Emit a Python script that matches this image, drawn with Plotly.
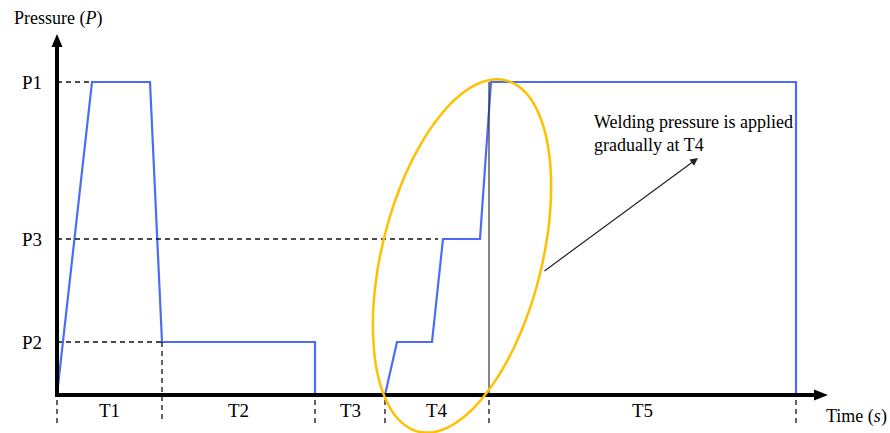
import numpy as np
import plotly.graph_objects as go

# ---- data (time units / pressure units, origin at axes crossing) ----
P1, P3, P2 = 313, 156, 53
T_bounds = [0, 105, 258, 328, 432, 739]
T_labels = ["T1", "T2", "T3", "T4", "T5"]
p_labels = ["P1", "P2", "P3"]
p_values = [P1, P2, P3]

prof_t = [0, 35, 93, 105, 258, 258, 328, 340, 375, 386, 423, 434, 739, 739]
prof_p = [0, P1, P1, P2, P2, 0, 0, P2, P2, P3, P3, P1, P1, 0]

BLUE = "#4a6cf7"
ORANGE = "#FFC000"
FONT = "Liberation Serif"

fig = go.Figure()
fig.add_trace(go.Scatter(x=prof_t, y=prof_p, mode="lines",
                         line=dict(color=BLUE, width=2.2), hoverinfo="skip",
                         showlegend=False))

shapes = []
dash = "5px,4px"
dl = dict(color="#111", width=1.3, dash=dash)
# horizontal dashed guides
shapes.append(dict(type="line", x0=0, x1=35, y0=P1, y1=P1, line=dl))
shapes.append(dict(type="line", x0=0, x1=381, y0=P3, y1=P3, line=dl))
shapes.append(dict(type="line", x0=0, x1=105, y0=P2, y1=P2, line=dl))
# vertical dashed ticks
for t in T_bounds:
    y0 = P2 if t == 105 else -5
    shapes.append(dict(type="line", x0=t, x1=t, y0=y0, y1=-28, line=dl))
# thin black vertical at end of T4
shapes.append(dict(type="line", x0=432, x1=432, y0=0, y1=P1, line=dict(color="#333", width=1.2)))
# axes
shapes.append(dict(type="line", x0=0, x1=0, y0=-2, y1=350, line=dict(color="black", width=4)))
shapes.append(dict(type="line", x0=-2, x1=760, y0=0, y1=0, line=dict(color="black", width=4)))
shapes.append(dict(type="path", path="M -5.5 348 L 5.5 348 L 0 361 Z", fillcolor="black", line=dict(width=0)))
shapes.append(dict(type="path", path="M 757 -5.5 L 757 5.5 L 771 0 Z", fillcolor="black", line=dict(width=0)))

# ellipse
cx, cy, a, b, th = 405, 139, 181, 80, np.radians(14)
ts = np.linspace(0, 2 * np.pi, 120)
ux, uy = np.sin(th), np.cos(th)
vx, vy = np.cos(th), -np.sin(th)
ex = cx + a * np.cos(ts) * ux + b * np.sin(ts) * vx
ey = cy + a * np.cos(ts) * uy + b * np.sin(ts) * vy
path = "M " + " L ".join(f"{x:.1f} {y:.1f}" for x, y in zip(ex, ey)) + " Z"
shapes.append(dict(type="path", path=path, line=dict(color=ORANGE, width=2.5)))

ann = []
ann.append(dict(x=1, y=377, text="Pressure (<i>P</i>)", showarrow=False,
                font=dict(family=FONT, size=18, color="black")))
for lab, v in zip(p_labels, p_values):
    ann.append(dict(x=-13, y=v, text=lab, showarrow=False, xanchor="right",
                    font=dict(family=FONT, size=19, color="black")))
for i, lab in enumerate(T_labels):
    ann.append(dict(x=(T_bounds[i] + T_bounds[i + 1]) / 2, y=-15, text=lab, showarrow=False,
                    font=dict(family=FONT, size=19, color="black")))
ann.append(dict(x=767, y=-21, text="Time (<i>s</i>)", showarrow=False, xanchor="left",
                font=dict(family=FONT, size=18, color="black")))
ann.append(dict(x=535, y=262, text="Welding pressure is applied<br>gradually at T4",
                showarrow=False, xanchor="left", align="left",
                font=dict(family=FONT, size=18, color="black")))
ann.append(dict(x=641, y=237, ax=486, ay=123, axref="x", ayref="y", xref="x", yref="y",
                text="", showarrow=True, arrowhead=2, arrowsize=1.3, arrowwidth=1.2,
                arrowcolor="#222"))

fig.update_layout(
    width=890, height=433, autosize=False,
    margin=dict(l=0, r=0, t=0, b=0, pad=0),
    paper_bgcolor="white", plot_bgcolor="white",
    xaxis=dict(range=[-57, 833], visible=False, fixedrange=True),
    yaxis=dict(range=[-38, 395], visible=False, fixedrange=True),
    shapes=shapes, annotations=ann, showlegend=False,
)
fig.write_html("out.html", config={"displayModeBar": False},
               post_script="document.body.style.margin='0';document.body.style.overflow='hidden';")
